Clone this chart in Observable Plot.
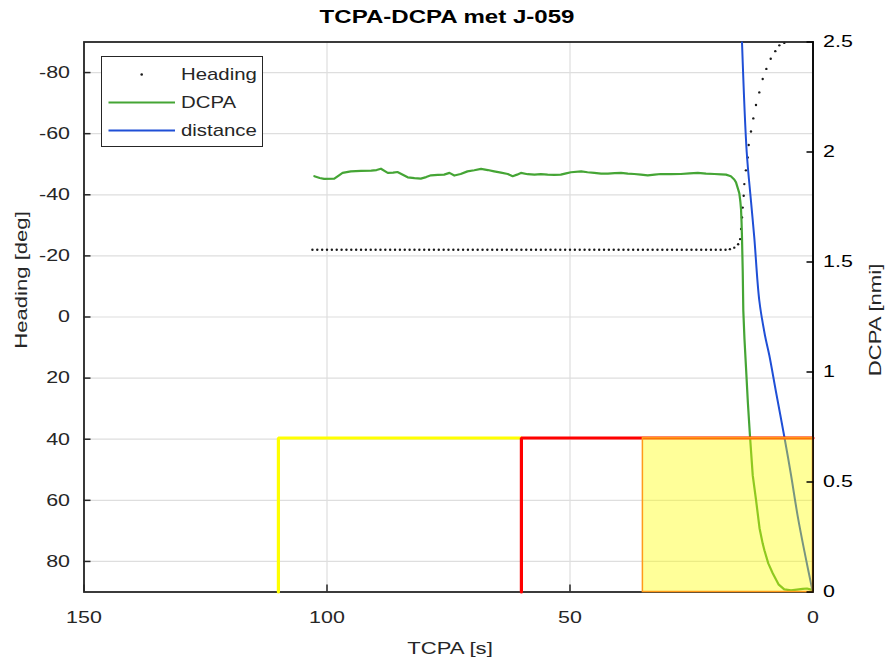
<!DOCTYPE html>
<html>
<head>
<meta charset="utf-8">
<script src="https://cdn.jsdelivr.net/npm/d3@7"></script>
<script src="https://cdn.jsdelivr.net/npm/@observablehq/plot@0.6"></script>
<style>
  html, body { margin: 0; padding: 0; background: #fff; }
  #wrap { position: relative; width: 887px; height: 663px; overflow: hidden; font-family: "Liberation Sans", Arial, sans-serif; color: #262626; }
  #wrap svg.plot { position: absolute; left: 0; top: 0; }
  .lbl { position: absolute; white-space: nowrap; font-size: 17px; color: #262626; line-height: 1; }
  #title { position: absolute; white-space: nowrap; font-weight: bold; font-size: 18.5px; color: #000; line-height: 1; }
</style>
</head>
<body>
<div id="wrap"></div>
<script>
// ---------- data ----------
const xTicks = [150, 100, 50, 0];
const headingTicks = [-80, -60, -40, -20, 0, 20, 40, 60, 80];
const dcpaTicks = [0, 0.5, 1, 1.5, 2, 2.5];
const dcpaTickLabels = ["0", "0.5", "1", "1.5", "2", "2.5"];

// Heading samples (TCPA [s], heading [deg])
const headingTcpa = [103,102,101,100,99,98,97,96,95,94,93,92,91,90,89,88,87,86,85,84,83,82,81,80,79,78,77,76,75,74,73,72,71,70,69,68,67,66,65,64,63,62,61,60,59,58,57,56,55,54,53,52,51,50,49,48,47,46,45,44,43,42,41,40,39,38,37,36,35,34,33,32,31,30,29,28,27,26,25,24,23,22,21,20,19,18,
  17.1,16.2,15.4,15.0,14.8,14.6,14.47,14.26,14.13,13.8,13.44,13.23,12.76,12.28,11.73,11.05,10.35,9.6,8.7,7.76,6.93,5.9];
const headingDeg = [-22,-22,-22,-22,-22,-22,-22,-22,-22,-22,-22,-22,-22,-22,-22,-22,-22,-22,-22,-22,-22,-22,-22,-22,-22,-22,-22,-22,-22,-22,-22,-22,-22,-22,-22,-22,-22,-22,-22,-22,-22,-22,-22,-22,-22,-22,-22,-22,-22,-22,-22,-22,-22,-22,-22,-22,-22,-22,-22,-22,-22,-22,-22,-22,-22,-22,-22,-22,-22,-22,-22,-22,-22,-22,-22,-22,-22,-22,-22,-22,-22,-22,-22,-22,-22,-22,
  -22.2,-22.7,-23.8,-25.5,-28.8,-32.6,-35.8,-39.7,-43.5,-48,-52.2,-56.3,-60.7,-65,-69.4,-73.5,-77.9,-81.2,-84.5,-87,-88.9,-89.7];

// DCPA samples (TCPA [s], DCPA [nmi])
const dcpaTcpa = [102.6,101.5,100.6,98.5,97.6,96.8,95.1,93.0,90.9,89.8,88.9,87.5,86.4,85.5,84.5,83.4,82.0,80.7,79.6,78.6,77.2,75.9,74.8,73.8,72.5,71.1,69.7,68.3,66.9,65.6,64.2,62.8,61.8,60.9,60.1,58.7,57.3,56.0,54.6,53.2,51.9,50.8,49.8,47.7,46.4,45.0,43.6,42.2,40.8,39.5,38.1,36.8,35.4,34.0,32.6,31.3,29.2,27.2,25.4,23.7,22.0,20.3,18.9,17.9,16.9,16.2,15.84,15.4,15.16,14.95,14.81,14.7,14.61,14.46,14.34,14.1,13.79,13.4,12.96,12.4,11.73,11.0,10.35,10.0,9.2,8.29,7.1,5.91,4.53,3.3,2.12,1.23,0.41,0];
const dcpaVal = [1.890,1.882,1.878,1.879,1.893,1.905,1.912,1.914,1.915,1.918,1.924,1.905,1.906,1.909,1.898,1.885,1.881,1.879,1.886,1.894,1.896,1.897,1.905,1.893,1.900,1.912,1.917,1.923,1.918,1.912,1.906,1.900,1.890,1.897,1.905,1.899,1.897,1.899,1.897,1.896,1.897,1.903,1.908,1.912,1.908,1.905,1.902,1.902,1.904,1.905,1.902,1.900,1.897,1.894,1.897,1.900,1.899,1.900,1.903,1.905,1.902,1.900,1.898,1.897,1.890,1.875,1.862,1.830,1.812,1.775,1.740,1.680,1.611,1.460,1.279,1.150,1.023,0.860,0.707,0.530,0.420,0.290,0.220,0.190,0.130,0.085,0.035,0.012,0.007,0.011,0.014,0.016,0.011,0.007];

// distance samples (TCPA [s], distance [nmi])
const distTcpa = [14.61,13.64,12.76,12.08,11.05,9.88,8.99,7.61,5.91,4.53,3.15,1.65,0.1];
const distVal = [2.5,2.0,1.777,1.611,1.325,1.166,1.076,0.909,0.707,0.533,0.345,0.172,0.005];

// zone boundaries (TCPA [s], DCPA [nmi])
const yellowZone = {tcpa: [110, 110, 60], dcpa: [0, 0.7, 0.7]};
const redZone = {tcpa: [60, 60, 0], dcpa: [0, 0.7, 0.7]};
const alarmZone = {tcpaFrom: 35, tcpaTo: 0, dcpaFrom: 0, dcpaTo: 0.7};

const legendItems = ["Heading", "DCPA", "distance"];
const titleText = "TCPA-DCPA met J-059";
const xLabel = "TCPA [s]", yLabelLeft = "Heading [deg]", yLabelRight = "DCPA [nmi]";

// ---------- build tables ----------
const heading = headingTcpa.map((t, i) => ({t, h: headingDeg[i]}));
const dcpa = dcpaTcpa.map((t, i) => ({t, v: dcpaVal[i]}));
const dist = distTcpa.map((t, i) => ({t, v: distVal[i]}));
const yl = yellowZone.tcpa.map((t, i) => ({t, v: yellowZone.dcpa[i]}));
const rd = redZone.tcpa.map((t, i) => ({t, v: redZone.dcpa[i]}));

const W = 887, H = 663;
const M = {left: 83.5, right: 74.5, top: 41.5, bottom: 71.5};
const green = "#45a535", blue = "#1f4fd6";
const fontFamily = "'Liberation Sans', Arial, sans-serif";
const STRETCH = 1.3; // glyphs in the reference are wide

const base = Plot.plot({
  width: W, height: H,
  marginLeft: M.left, marginRight: M.right, marginTop: M.top, marginBottom: M.bottom,
  x: {domain: [150, 0]},
  y: {domain: [-90, 90], reverse: true},
  style: {fontFamily, fontSize: "16.5px", color: "#262626", background: "white"},
  marks: [
    Plot.gridX({ticks: xTicks, stroke: "#dedede", strokeOpacity: 1, strokeWidth: 1.2}),
    Plot.gridY({ticks: headingTicks, stroke: "#dedede", strokeOpacity: 1, strokeWidth: 1.2}),
    Plot.dot(heading, {x: "t", y: "h", r: 1.2, fill: "#1a1a1a", stroke: null}),
    Plot.axisX({ticks: xTicks, tickSize: 7, dy: -7, tickPadding: 19, tickFormat: d => String(d), label: null, stroke: "#262626", strokeWidth: 1.5, fontSize: 16.5}),
    Plot.axisY({ticks: headingTicks, anchor: "left", tickSize: 7, dx: 7, tickPadding: 14, tickFormat: d => String(d), label: null, stroke: "#262626", strokeWidth: 1.5, fontSize: 16.5}),
    Plot.frame({stroke: "#262626", strokeWidth: 1.8})
  ]
});
base.classList.add("plot");

const over = Plot.plot({
  width: W, height: H,
  marginLeft: M.left, marginRight: M.right, marginTop: M.top, marginBottom: M.bottom,
  x: {domain: [150, 0], axis: null},
  y: {domain: [0, 2.5], axis: null},
  style: {fontFamily, fontSize: "16.5px", color: "#262626", background: "transparent"},
  marks: [
    Plot.line(dcpa, {x: "t", y: "v", stroke: green, strokeWidth: 2.2, clip: true}),
    Plot.line(dist, {x: "t", y: "v", stroke: blue, strokeWidth: 2, curve: "catmull-rom", clip: true}),
    Plot.line(yl, {x: "t", y: "v", stroke: "#ffff00", strokeWidth: 3.2, strokeLinejoin: "miter"}),
    Plot.line(rd, {x: "t", y: "v", stroke: "#ff0000", strokeWidth: 3.2, strokeLinejoin: "miter"}),
    Plot.rect([alarmZone], {x1: "tcpaFrom", x2: "tcpaTo", y1: "dcpaFrom", y2: "dcpaTo", fill: "#ffff00", fillOpacity: 0.4, stroke: "#ff9a1a", strokeWidth: 1.5}),
    Plot.ruleX([0], {stroke: "#000", strokeWidth: 1.5}),
    Plot.axisY({ticks: dcpaTicks, anchor: "right", tickSize: 7, dx: -7, tickPadding: 10, tickFormat: d => dcpaTickLabels[dcpaTicks.indexOf(d)], label: null, stroke: "#000", strokeWidth: 1.5, fontSize: 16.5, fill: "#000"})
  ]
});
over.classList.add("plot");

// widen glyphs around each text's anchor point (Plot positions texts with a translate transform)
function stretchTexts(svg) {
  svg.querySelectorAll("text").forEach(t => {
    const tr = t.getAttribute("transform") || "";
    t.setAttribute("transform", `${tr} scale(${STRETCH},1)`);
  });
}
stretchTexts(base);
stretchTexts(over);

const wrap = document.getElementById("wrap");
wrap.appendChild(base);
wrap.appendChild(over);

// title & axis labels (HTML text)
function label(text, x, y, rot, cls) {
  const d = document.createElement("div");
  d.className = cls || "lbl";
  if (cls === "title") d.id = "title";
  d.textContent = text;
  d.style.left = x + "px";
  d.style.top = y + "px";
  d.style.transform = `translate(-50%, -50%)` + (rot ? ` rotate(${rot}deg)` : "") + ` scale(${STRETCH},1)`;
  wrap.appendChild(d);
}
label(titleText, 447, 17, 0, "title");
label(xLabel, 450, 648, 0);
label(yLabelLeft, 21, 280, -90);
label(yLabelRight, 875, 320, -90);

// legend
const ns = "http://www.w3.org/2000/svg";
const lg = document.createElementNS(ns, "svg");
lg.setAttribute("width", W);
lg.setAttribute("height", 160);
lg.style.position = "absolute"; lg.style.left = "0px"; lg.style.top = "0px";
const box = document.createElementNS(ns, "rect");
box.setAttribute("x", 101.5); box.setAttribute("y", 56.5);
box.setAttribute("width", 161); box.setAttribute("height", 90);
box.setAttribute("fill", "#fff"); box.setAttribute("stroke", "#262626"); box.setAttribute("stroke-width", 1);
lg.appendChild(box);
const rows = [74.5, 102.5, 130.5];
const dot = document.createElementNS(ns, "circle");
dot.setAttribute("cx", 141.7); dot.setAttribute("cy", rows[0]); dot.setAttribute("r", 1.3); dot.setAttribute("fill", "#1a1a1a");
lg.appendChild(dot);
[[green, rows[1]], [blue, rows[2]]].forEach(([c, y]) => {
  const l = document.createElementNS(ns, "line");
  l.setAttribute("x1", 108.5); l.setAttribute("x2", 175); l.setAttribute("y1", y); l.setAttribute("y2", y);
  l.setAttribute("stroke", c); l.setAttribute("stroke-width", 2);
  lg.appendChild(l);
});
legendItems.forEach((t, i) => {
  const tx = document.createElementNS(ns, "text");
  const x = 181, y = rows[i];
  tx.setAttribute("x", x); tx.setAttribute("y", y);
  tx.setAttribute("dy", "0.35em");
  tx.setAttribute("font-family", "Liberation Sans, Arial, sans-serif");
  tx.setAttribute("font-size", 16); tx.setAttribute("fill", "#262626");
  tx.setAttribute("transform", `translate(${x},${y}) scale(${STRETCH * 0.98},1) translate(${-x},${-y})`);
  tx.textContent = t;
  lg.appendChild(tx);
});
wrap.appendChild(lg);
</script>
</body>
</html>
